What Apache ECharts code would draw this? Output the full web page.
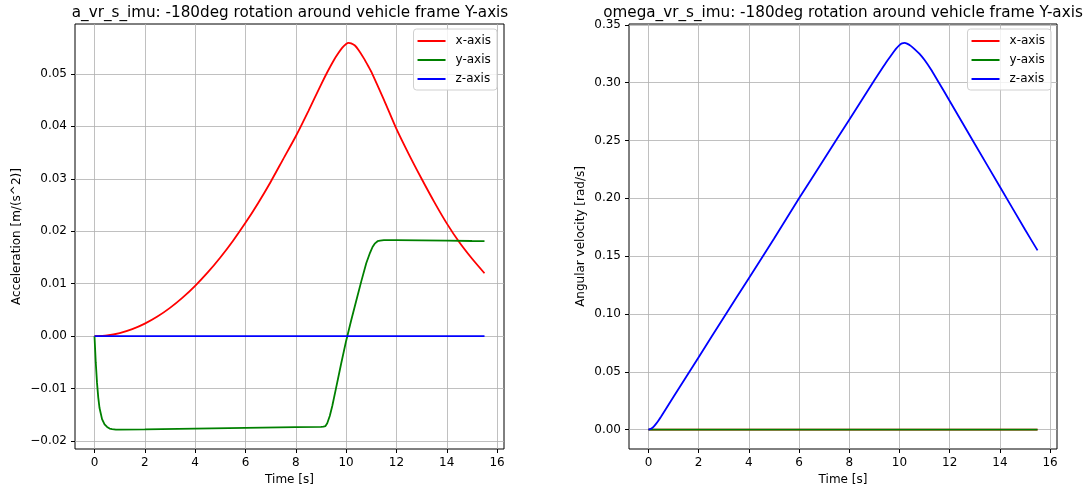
<!DOCTYPE html>
<html>
<head>
<meta charset="utf-8">
<script src="https://cdn.jsdelivr.net/npm/echarts@6/dist/echarts.min.js"></script>
<style>
  html, body { margin: 0; padding: 0; background: #ffffff; }
  #chart { width: 1091px; height: 493px; }
</style>
</head>
<body>
<div id="chart"></div>
<script>
// ---- Linear acceleration a_vr_s_imu [m/s^2] ----
const accXTime = [0, 0.5, 1, 1.5, 2, 2.5, 3, 3.5, 4, 4.5, 5, 5.5, 6, 6.5, 7, 7.5, 8, 8.5, 9, 9.25, 9.5, 9.7, 9.85, 10, 10.1, 10.2, 10.35, 10.5, 10.7, 10.9, 11, 11.5, 12, 12.5, 13, 13.5, 14, 14.5, 15, 15.5];
const accXValues = [0, 0.00015, 0.0006, 0.00135, 0.0024, 0.00375, 0.0054, 0.00735, 0.0096, 0.01215, 0.015, 0.01815, 0.0216, 0.02535, 0.0294, 0.03375, 0.0381, 0.0429, 0.0479, 0.0503, 0.0525, 0.0540, 0.0550, 0.0557, 0.0559, 0.0558, 0.0554, 0.0545, 0.0530, 0.0513, 0.0504, 0.0451, 0.0395, 0.0346, 0.0300, 0.0256, 0.0215, 0.0179, 0.0148, 0.0120];

const accYTime = [0, 0.05, 0.1, 0.15, 0.2, 0.3, 0.4, 0.5, 0.6, 0.7, 0.85, 1.0, 2, 4, 6, 8, 9.0, 9.1, 9.18, 9.25, 9.35, 9.45, 9.6, 9.8, 10.0, 10.2, 10.4, 10.6, 10.8, 10.95, 11.05, 11.15, 11.25, 11.35, 11.5, 12, 13, 14, 15, 15.5];
const accYValues = [0, -0.0050, -0.0089, -0.0117, -0.0137, -0.0158, -0.0168, -0.0173, -0.0176, -0.0177, -0.0178, -0.0178, -0.01776, -0.01762, -0.01748, -0.01734, -0.01727, -0.01724, -0.01712, -0.0166, -0.0152, -0.0133, -0.0099, -0.0053, -0.0009, 0.0030, 0.0067, 0.0104, 0.0139, 0.0159, 0.0170, 0.0177, 0.0181, 0.0182, 0.0183, 0.01832, 0.01826, 0.0182, 0.01814, 0.01812];

const accZTime = [0, 15.5];
const accZValues = [0, 0];

// ---- Angular velocity omega_vr_s_imu [rad/s] ----
const omegaXTime = [0, 15.5];
const omegaXValues = [0, 0];

const omegaYTime = [0, 15.5];
const omegaYValues = [0, 0];

const omegaZTime = [0, 0.1, 0.2, 0.3, 0.4, 0.5, 0.6, 0.8, 1.0, 2, 3, 4, 5, 6, 7, 8, 9, 9.3, 9.5, 9.7, 9.85, 10.0, 10.1, 10.2, 10.3, 10.45, 10.6, 10.8, 11.0, 11.25, 11.5, 12, 13, 14, 15, 15.5];
const omegaZValues = [0, 0.0008, 0.0025, 0.0050, 0.0080, 0.0112, 0.0146, 0.0216, 0.0285, 0.0627, 0.097, 0.131, 0.165, 0.200, 0.234, 0.268, 0.302, 0.312, 0.3185, 0.3245, 0.3290, 0.3325, 0.3340, 0.3343, 0.3337, 0.3318, 0.3290, 0.3248, 0.3195, 0.3115, 0.3025, 0.2842, 0.2470, 0.2100, 0.1730, 0.1550];

// ---- Tick labels ----
const timeTicks = [0, 2, 4, 6, 8, 10, 12, 14, 16];
const accTicks = [-0.02, -0.01, 0, 0.01, 0.02, 0.03, 0.04, 0.05];
const omegaTicks = [0, 0.05, 0.1, 0.15, 0.2, 0.25, 0.3, 0.35];

const seriesNames = ['x-axis', 'y-axis', 'z-axis'];
const seriesColors = ['#ff0000', '#008000', '#0000ff'];

const FONT = 'DejaVu Sans';
const pairs = (ts, vs) => ts.map((t, i) => [t, vs[i]]);
const fmt = (v) => { const s = Math.abs(v).toFixed(2); return v < -1e-9 ? '\u2212' + s : s; };

function timeAxis(gridIndex) {
  return {
    type: 'value', gridIndex,
    min: -0.775, max: 16.275,
    name: 'Time [s]', nameLocation: 'middle', nameGap: 24,
    nameTextStyle: { fontFamily: FONT, fontSize: 12, color: '#000' },
    axisLine: { show: false, onZero: false },
    axisTick: { show: true, length: 4, customValues: timeTicks, lineStyle: { color: '#000', width: 1 } },
    axisLabel: { customValues: timeTicks, margin: 8, fontFamily: FONT, fontSize: 12, color: '#000' },
    splitLine: { show: true, lineStyle: { color: '#b0b0b0', width: 0.8 } }
  };
}

function valueAxis(gridIndex, min, max, ticks, name, gap) {
  return {
    type: 'value', gridIndex, min, max,
    name, nameLocation: 'middle', nameGap: gap,
    nameTextStyle: { fontFamily: FONT, fontSize: 12, color: '#000' },
    axisLine: { show: false, onZero: false },
    axisTick: { show: true, length: 4, customValues: ticks, lineStyle: { color: '#000', width: 1 } },
    axisLabel: { customValues: ticks, margin: 8, formatter: fmt, fontFamily: FONT, fontSize: 12, color: '#000' },
    splitLine: { show: true, lineStyle: { color: '#b0b0b0', width: 0.8 } }
  };
}

function lineSeries(name, color, data, axisIndex, smooth) {
  return {
    name, type: 'line', data,
    xAxisIndex: axisIndex, yAxisIndex: axisIndex,
    showSymbol: false, symbol: 'none', animation: false,
    smooth: smooth,
    lineStyle: { color, width: 1.8 }, itemStyle: { color },
    emphasis: { disabled: true }
  };
}

function legendBox(right) {
  return {
    data: seriesNames, orient: 'vertical', right, top: 29,
    icon: 'rect', itemWidth: 28, itemHeight: 2, itemGap: 5,
    padding: [5, 6, 4, 4],
    backgroundColor: 'rgba(255,255,255,0.8)',
    borderColor: '#d0d0d0', borderWidth: 1, borderRadius: 3,
    textStyle: { fontFamily: FONT, fontSize: 12, color: '#000', lineHeight: 14, padding: [0, 0, 0, 5] },
    selectedMode: false
  };
}

const titleStyle = { fontFamily: FONT, fontSize: 15.2, fontWeight: 'normal', color: '#000' };

const chart = echarts.init(document.getElementById('chart'), null, { renderer: 'canvas' });
chart.setOption({
  animation: false,
  backgroundColor: '#ffffff',
  title: [
    { text: 'a_vr_s_imu: -180deg rotation around vehicle frame Y-axis', left: 285, top: 1, textAlign: 'center', textStyle: titleStyle },
    { text: 'omega_vr_s_imu: -180deg rotation around vehicle frame Y-axis', left: 838, top: 1, textAlign: 'center', textStyle: titleStyle }
  ],
  grid: [
    { left: 75, top: 24, width: 429, height: 425, show: true, borderColor: '#000', borderWidth: 1, backgroundColor: 'transparent' },
    { left: 629, top: 24, width: 428, height: 425, show: true, borderColor: '#000', borderWidth: 1, backgroundColor: 'transparent' }
  ],
  xAxis: [timeAxis(0), timeAxis(1)],
  yAxis: [
    valueAxis(0, -0.0215, 0.0595, accTicks, 'Acceleration [m/(s^2)]', 52),
    valueAxis(1, -0.0167, 0.3507, omegaTicks, 'Angular velocity [rad/s]', 42)
  ],
  legend: [legendBox(594), legendBox(40)],
  series: [
    lineSeries(seriesNames[0], seriesColors[0], pairs(accXTime, accXValues), 0, 0.25),
    lineSeries(seriesNames[1], seriesColors[1], pairs(accYTime, accYValues), 0, false),
    lineSeries(seriesNames[2], seriesColors[2], pairs(accZTime, accZValues), 0, false),
    lineSeries(seriesNames[0], seriesColors[0], pairs(omegaXTime, omegaXValues), 1, false),
    lineSeries(seriesNames[1], seriesColors[1], pairs(omegaYTime, omegaYValues), 1, false),
    lineSeries(seriesNames[2], seriesColors[2], pairs(omegaZTime, omegaZValues), 1, 0.25)
  ]
});
</script>
</body>
</html>
